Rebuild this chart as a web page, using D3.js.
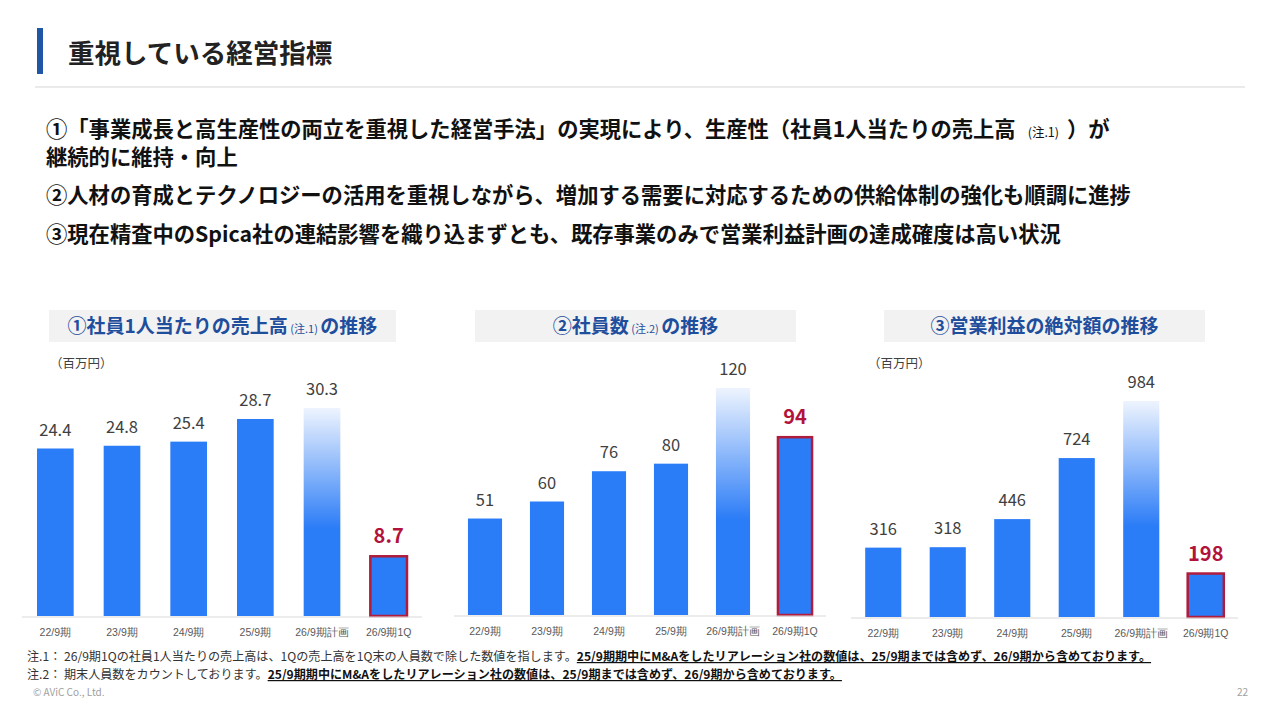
<!DOCTYPE html>
<html>
<head>
<meta charset="utf-8">
<script src="https://cdn.jsdelivr.net/npm/d3@7"></script>
<style>
body { margin: 0; background: #fff; }
svg { font-family: "Noto Sans CJK JP", "Noto Sans", sans-serif; }
.val { fill: #404040; font-size: 16.5px; }
.val.hi { fill: #b3123a; font-size: 20px; font-weight: 700; }
.xlab { fill: #595959; font-size: 10.5px; }
.ctitle { fill: #1f4e9d; font-size: 19px; font-weight: 700; }
.bullet { fill: #111; font-size: 21.3px; font-weight: 700; }
.note { fill: #333; font-size: 12.1px; }
</style>
</head>
<body>
<svg id="chart" width="1280" height="720"></svg>
<script>

// categories shared by the three charts
var periods = ["22/9期", "23/9期", "24/9期", "25/9期", "26/9期計画", "26/9期1Q"];

// ① sales per employee (百万円)
var salesPerHead = [24.4, 24.8, 25.4, 28.7, 30.3, 8.7];
// ② employees
var headcount = [51, 60, 76, 80, 120, 94];
// ③ operating profit (百万円)
var opProfit = [316, 318, 446, 724, 984, 198];

var planIndex = 4;   // gradient bar
var lastIndex = 5;   // red outlined bar

var svg = d3.select("#chart");

var defs = svg.append("defs");
var grad = defs.append("linearGradient")
    .attr("id", "planGrad")
    .attr("x1", 0).attr("y1", 0).attr("x2", 0).attr("y2", 1);
grad.append("stop").attr("offset", "0%").attr("stop-color", "#eef4fe");
grad.append("stop").attr("offset", "58%").attr("stop-color", "#2b7cf7");
grad.append("stop").attr("offset", "100%").attr("stop-color", "#2b7cf7");

// ---- header
svg.append("rect").attr("x", 37).attr("y", 28).attr("width", 6).attr("height", 46).attr("fill", "#1f56a5");
svg.append("text")
    .attr("x", 68).attr("y", 63)
    .style("font-size", "26.5px").style("font-weight", 700).style("fill", "#222")
    .text("重視している経営指標");
svg.append("line")
    .attr("x1", 35).attr("x2", 1245).attr("y1", 87).attr("y2", 87)
    .attr("stroke", "#e3e3e3").attr("stroke-width", 1.5);

// ---- bullets
var b1 = svg.append("text").attr("class", "bullet").attr("x", 46).attr("y", 137);
b1.append("tspan").text("①「事業成長と高生産性の両立を重視した経営手法」の実現により、生産性（社員1人当たりの売上高");
b1.append("tspan").style("font-size", "12.5px").style("font-weight", 400).attr("dx", 12).text("(注.1)");
b1.append("tspan").attr("dx", 8).text("）が");
svg.append("text").attr("class", "bullet").attr("x", 46).attr("y", 165).text("継続的に維持・向上");
svg.append("text").attr("class", "bullet").attr("x", 46).attr("y", 203)
    .text("②人材の育成とテクノロジーの活用を重視しながら、増加する需要に対応するための供給体制の強化も順調に進捗");
svg.append("text").attr("class", "bullet").attr("x", 46).attr("y", 242)
    .text("③現在精査中のSpica社の連結影響を織り込まずとも、既存事業のみで営業利益計画の達成確度は高い状況");

// ---- panels
function drawPanel(p) {
    var g = svg.append("g");

    // title box
    g.append("rect")
        .attr("x", p.box[0]).attr("y", 310)
        .attr("width", p.box[1] - p.box[0]).attr("height", 32)
        .attr("fill", "#f2f2f2");
    var t = g.append("text").attr("class", "ctitle")
        .attr("x", (p.box[0] + p.box[1]) / 2).attr("y", 333)
        .attr("text-anchor", "middle");
    t.append("tspan").text(p.title[0]);
    t.append("tspan").style("font-size", "11px").style("font-weight", 400).text(p.title[1]);
    t.append("tspan").text(p.title[2]);

    if (p.unit) {
        g.append("text").attr("x", p.unitX).attr("y", 368)
            .style("font-size", "12.5px").style("fill", "#404040")
            .text("（百万円）");
    }

    var x = d3.scaleBand()
        .domain(periods)
        .range(p.xr)
        .paddingInner(p.pad)
        .paddingOuter(p.pad / 2);

    var y = d3.scaleLinear()
        .domain([0, d3.max(p.values)])
        .range([p.base, p.top]);

    var data = p.values.map(function(v, i) { return {k: periods[i], v: v, i: i}; });

    g.selectAll("rect.bar")
        .data(data)
        .enter().append("rect")
        .attr("class", "bar")
        .attr("x", function(d) { return x(d.k); })
        .attr("y", function(d) { return y(d.v); })
        .attr("width", x.bandwidth())
        .attr("height", function(d) { return y(0) - y(d.v); })
        .attr("fill", function(d) { return d.i == planIndex ? "url(#planGrad)" : "#2b7cf7"; })
        .attr("stroke", function(d) { return d.i == lastIndex ? "#b01c3c" : "none"; })
        .attr("stroke-width", 2.5);

    // baseline
    g.append("line")
        .attr("x1", p.xr[0]).attr("x2", p.xr[1])
        .attr("y1", p.base + 1).attr("y2", p.base + 1)
        .attr("stroke", "#d9d9d9").attr("stroke-width", 1.2);

    g.selectAll("text.val")
        .data(data)
        .enter().append("text")
        .attr("class", function(d) { return d.i == lastIndex ? "val hi" : "val"; })
        .attr("text-anchor", "middle")
        .attr("x", function(d) { return x(d.k) + x.bandwidth() / 2; })
        .attr("y", function(d) { return y(d.v) - 13; })
        .text(function(d) { return d.v; });

    var xAxis = g.append("g")
        .attr("transform", "translate(0," + (p.base + 20) + ")")
        .call(d3.axisBottom(x).tickSize(0).tickPadding(0));
    xAxis.select(".domain").remove();
    xAxis.selectAll("text")
        .attr("class", "xlab")
        .attr("dy", 0)
        .style("font-family", "inherit")
        .style("font-size", "10.5px")
        .attr("fill", "#595959");
}

drawPanel({
    values: salesPerHead, xr: [22, 422], pad: 0.45, base: 616, top: 408,
    box: [49, 396], title: ["①社員1人当たりの売上高", " (注.1) ", "の推移"],
    unit: true, unitX: 50
});
drawPanel({
    values: headcount, xr: [454, 826], pad: 0.45, base: 615, top: 388,
    box: [475, 796], title: ["②社員数", " (注.2) ", "の推移"],
    unit: false
});
drawPanel({
    values: opProfit, xr: [851, 1238], pad: 0.44, base: 617, top: 401,
    box: [884, 1205], title: ["③営業利益の絶対額の推移", "", ""],
    unit: true, unitX: 868
});

// ---- footnotes
var boldNote = "25/9期期中にM&Aをしたリアレーション社の数値は、25/9期までは含めず、26/9期から含めております。";
var n1 = svg.append("text").attr("class", "note").attr("x", 27).attr("y", 661);
n1.append("tspan").text("注.1： 26/9期1Qの社員1人当たりの売上高は、1Qの売上高を1Q末の人員数で除した数値を指します。");
n1.append("tspan").style("font-weight", 700).style("fill", "#111")
    .style("text-decoration", "underline").text(boldNote);
var n2 = svg.append("text").attr("class", "note").attr("x", 27).attr("y", 679);
n2.append("tspan").text("注.2： 期末人員数をカウントしております。");
n2.append("tspan").style("font-weight", 700).style("fill", "#111")
    .style("text-decoration", "underline").text(boldNote);

svg.append("text").attr("x", 33).attr("y", 696)
    .style("font-size", "10px").style("fill", "#a0a0a0")
    .text("© AViC Co., Ltd.");
svg.append("text").attr("x", 1248).attr("y", 696).attr("text-anchor", "end")
    .style("font-size", "10px").style("fill", "#a0a0a0")
    .text("22");

</script>
</body>
</html>
